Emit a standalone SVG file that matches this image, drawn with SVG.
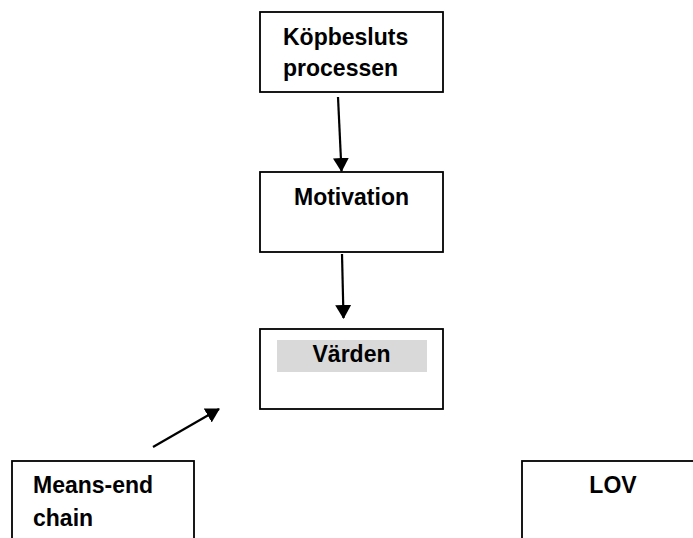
<svg xmlns="http://www.w3.org/2000/svg" width="693" height="538" viewBox="0 0 693 538">
<style>
.box{fill:#fff;stroke:#000;stroke-width:1.8}
.t{font-family:"Liberation Sans",Arial,sans-serif;font-weight:bold;font-size:23px;fill:#000}
.c{stroke:#000;stroke-width:2.2;fill:none}
</style>
<defs>
<marker id="ah" markerWidth="14" markerHeight="16" refX="13" refY="8" orient="auto" markerUnits="userSpaceOnUse">
<path d="M0,0 L14,8 L0,16 Z" fill="#000"/>
</marker>
</defs>
<rect width="693" height="538" fill="#fff"/>
<g id="kopbesluts">
<rect class="box" x="260" y="12" width="183" height="80"/>
<text class="t" x="283" y="45">Köpbesluts</text>
<text class="t" x="283" y="76">processen</text>
</g>
<g id="motivation">
<rect class="box" x="260" y="172" width="183" height="80"/>
<text class="t" x="351.5" y="205" text-anchor="middle">Motivation</text>
</g>
<g id="varden">
<rect class="box" x="260" y="329" width="183" height="80"/>
<rect x="277" y="340" width="150" height="32" fill="#d9d9d9"/>
<text class="t" x="351.5" y="362" text-anchor="middle">Värden</text>
</g>
<g id="meansend">
<rect class="box" x="12" y="461" width="182" height="90"/>
<text class="t" x="33" y="493">Means-end</text>
<text class="t" x="33" y="526">chain</text>
</g>
<g id="lov">
<rect class="box" x="522" y="461" width="180" height="90"/>
<text class="t" x="613" y="493" text-anchor="middle">LOV</text>
</g>
<g id="connectors">
<line class="c" x1="338" y1="97" x2="341.5" y2="171" marker-end="url(#ah)"/>
<line class="c" x1="342" y1="254" x2="343.5" y2="318" marker-end="url(#ah)"/>
<line class="c" x1="153" y1="447" x2="219" y2="409" marker-end="url(#ah)"/>
</g>
</svg>
